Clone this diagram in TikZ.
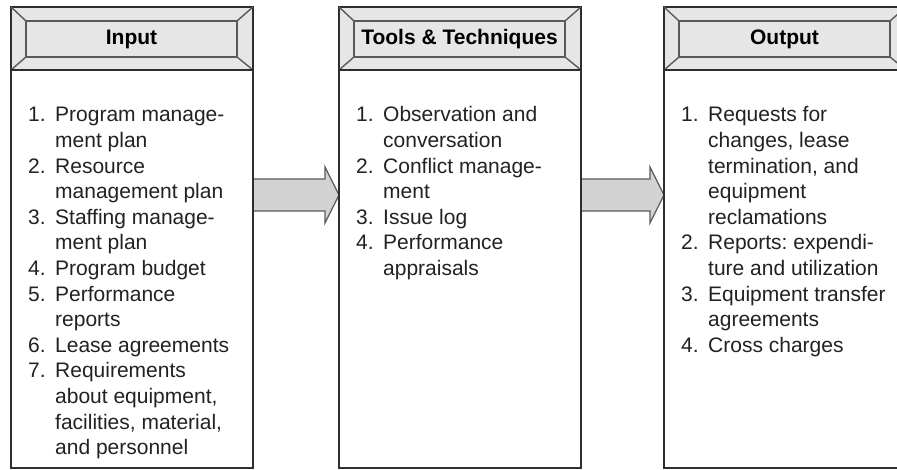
\documentclass[tikz,border=0pt]{standalone}
\usepackage{fontspec}
\setmainfont{Liberation Sans}
\usetikzlibrary{calc,backgrounds}
\definecolor{hdrfill}{HTML}{E6E6E6}
\definecolor{arrfill}{HTML}{D3D3D3}
\definecolor{edgecol}{HTML}{2E2E2E}
\definecolor{bevelcol}{HTML}{5A5A5A}
\definecolor{txtcol}{HTML}{222222}
\newcommand\itemtab[1]{{\fontsize{21}{25.6}\selectfont\frenchspacing\color{txtcol}\begin{tabular}[t]{@{}p{27pt}@{}l@{}}#1\end{tabular}}}
\newcommand\pmcol[3]{%
  \node[hdrbox, anchor=north west] (#1-h) at (#2,463) {};
  \node[bevelbox] (#1-i) at ($(#1-h.north west)+(15,-14)$) {};
  \node[hdrtext] (#1-lab) at (#1-i.center) {#3};
  \draw[bevelline] (#1-h.north west) -- (#1-i.north west);
  \draw[bevelline] (#1-h.north east) -- (#1-i.north east);
  \draw[bevelline] (#1-h.south west) -- (#1-i.south west);
  \draw[bevelline] (#1-h.south east) -- (#1-i.south east);
  \node[bodybox, anchor=north west] (#1-b) at (#1-h.south west) {};
}
\begin{document}
\begin{tikzpicture}[x=1pt,y=1pt,
  hdrbox/.style={draw=edgecol, line width=2pt, fill=hdrfill, minimum width=242pt, minimum height=63pt, inner sep=0pt, outer sep=0pt},
  bevelbox/.style={draw=bevelcol, line width=1.4pt, fill=hdrfill, anchor=north west, minimum width=211pt, minimum height=36pt, inner sep=0pt, outer sep=0pt},
  bevelline/.style={draw=bevelcol, line width=1.4pt},
  hdrtext/.style={font=\fontsize{21}{24}\selectfont\bfseries, text=black, inner sep=0pt},
  bodybox/.style={draw=edgecol, line width=2.2pt, minimum width=242pt, minimum height=398pt, inner sep=0pt, outer sep=0pt},
  bigarrow/.style={fill=arrfill, draw=bevelcol, line width=1.3pt, line join=miter}]
\useasboundingbox (0,0) rectangle (897,470);
\clip (0,0) rectangle (897,470);
\pmcol{in}{11}{Input}
\pmcol{tl}{339}{Tools \& Techniques}
\pmcol{out}{664}{Output}

\node[anchor=base west, inner sep=0pt] (in-t) at (28,348) {\itemtab{%
1. & Program manage-\\
   & ment plan\\
2. & Resource\\
   & management plan\\
3. & Staffing manage-\\
   & ment plan\\
4. & Program budget\\
5. & Performance\\
   & reports\\
6. & Lease agreements\\
7. & Requirements\\
   & about equipment,\\
   & facilities, material,\\
   & and personnel}};
\node[anchor=base west, inner sep=0pt] (tl-t) at (356,348) {\itemtab{%
1. & Observation and\\
   & conversation\\
2. & Conflict manage-\\
   & ment\\
3. & Issue log\\
4. & Performance\\
   & appraisals}};
\node[anchor=base west, inner sep=0pt] (out-t) at (681,348) {\itemtab{%
1. & Requests for\\
   & changes, lease\\
   & termination, and\\
   & equipment\\
   & reclamations\\
2. & Reports: expendi-\\
   & ture and utilization\\
3. & Equipment transfer\\
   & agreements\\
4. & Cross charges}};

\begin{scope}[on background layer]
\fill[white] (0,0) rectangle (897,470);
\coordinate (a1s) at (in-b.east |- 0,275);
\coordinate (a1t) at (tl-b.west |- 0,275);
\coordinate (a2s) at (tl-b.east |- 0,275);
\coordinate (a2t) at (out-b.west |- 0,275);
\foreach \s/\t in {a1s/a1t,a2s/a2t}{
  \draw[bigarrow] (\s) ++(0,16) -- ($(\t)+(-14,16)$) -- ($(\t)+(-14,28)$) -- (\t) -- ($(\t)+(-14,-28)$) -- ($(\t)+(-14,-16)$) -- ($(\s)+(0,-16)$) -- cycle;
}
\end{scope}
\end{tikzpicture}
\end{document}
